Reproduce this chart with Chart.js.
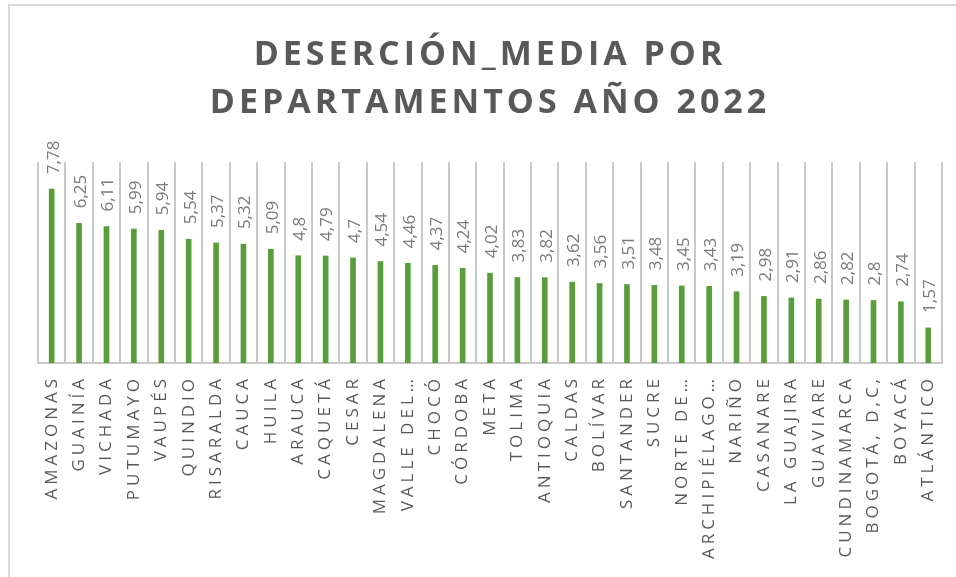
<!DOCTYPE html>
<html>
<head>
<meta charset="utf-8">
<script src="https://cdn.jsdelivr.net/npm/chart.js@4.4.1/dist/chart.umd.min.js"></script>
<style>
  body{margin:0;background:#fff;}
  #wrap{position:relative;width:956px;height:577px;overflow:hidden;}
  #frame{position:absolute;left:8px;top:4px;width:1000px;height:700px;border-left:2px solid #d9d9d9;border-top:2px solid #d9d9d9;}
  canvas{position:absolute;left:0;top:0;}
</style>
</head>
<body>
<div id="wrap">
  <div id="frame"></div>
  <canvas id="myChart" width="956" height="577"></canvas>
</div>
<script>
const departamentos = ['AMAZONAS','GUAINÍA','VICHADA','PUTUMAYO','VAUPÉS','QUINDIO','RISARALDA','CAUCA','HUILA','ARAUCA','CAQUETÁ','CESAR','MAGDALENA','VALLE DEL…','CHOCÓ','CÓRDOBA','META','TOLIMA','ANTIOQUIA','CALDAS','BOLÍVAR','SANTANDER','SUCRE','NORTE DE…','ARCHIPIÉLAGO…','NARIÑO','CASANARE','LA GUAJIRA','GUAVIARE','CUNDINAMARCA','BOGOTÁ, D,C,','BOYACÁ','ATLÁNTICO'];
const desercion = [7.78,6.25,6.11,5.99,5.94,5.54,5.37,5.32,5.09,4.8,4.79,4.7,4.54,4.46,4.37,4.24,4.02,3.83,3.82,3.62,3.56,3.51,3.48,3.45,3.43,3.19,2.98,2.91,2.86,2.82,2.8,2.74,1.57];
const titulo = ['DESERCIÓN_MEDIA POR','DEPARTAMENTOS AÑO 2022'];

// letter spacing for title and axis labels (excel look)
const spacing = {
    id: 'spacing',
    beforeDraw(chart){ chart.ctx.letterSpacing = '4px'; }
};

// value labels above the bars, rotated
const etiquetas = {
    id: 'etiquetas',
    afterDatasetsDraw(chart){
        var ctx = chart.ctx;
        var meta = chart.getDatasetMeta(0);
        ctx.save();
        ctx.letterSpacing = '0px';
        ctx.font = '17px "Open Sans"';
        ctx.fillStyle = '#7a7a7a';
        ctx.textAlign = 'left';
        ctx.textBaseline = 'middle';
        meta.data.forEach((bar, i) => {
            ctx.save();
            ctx.translate(bar.x + 2, bar.y - 15);
            ctx.rotate(-Math.PI / 2);
            ctx.fillText(String(desercion[i]).replace('.', ','), 0, 0);
            ctx.restore();
        });
        ctx.restore();
    }
};

var ctx = document.getElementById('myChart').getContext('2d');
var myChart = new Chart(ctx, {
    type: 'bar',
    data: {
        labels: departamentos,
        datasets: [{
            label: 'Deserción media',
            data: desercion,
            backgroundColor: '#5a9e3b',
            barThickness: 5
        }]
    },
    options: {
        responsive: false,
        animation: false,
        devicePixelRatio: 1,
        layout: { padding: { left: 38, right: 14, top: 0, bottom: 0 } },
        plugins: {
            legend: { display: false },
            tooltip: { enabled: false },
            title: {
                display: true,
                text: titulo,
                color: '#595959',
                font: { family: 'Open Sans', size: 34, weight: 'bold', lineHeight: 1.41 },
                padding: { top: 31, bottom: 35 }
            }
        },
        scales: {
            x: {
                grid: { display: true, offset: true, color: '#c8c8c8', lineWidth: 2, drawTicks: false },
                border: { display: true, color: '#c8c8c8', width: 2 },
                ticks: {
                    color: '#595959',
                    font: { family: 'Open Sans', size: 17 },
                    minRotation: 90,
                    maxRotation: 90,
                    autoSkip: false,
                    padding: 12
                },
                afterFit: s => { s.height = 214; s.paddingLeft = 0; s.paddingRight = 0; }
            },
            y: {
                display: false,
                min: 0,
                max: 9
            }
        }
    },
    plugins: [spacing, etiquetas]
});
</script>
</body>
</html>
